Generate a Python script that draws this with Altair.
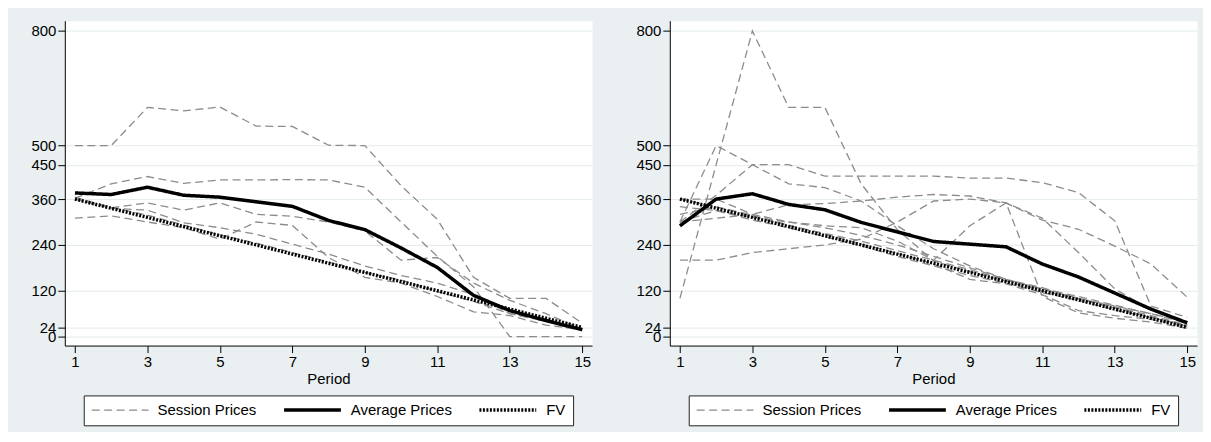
import altair as alt
import pandas as pd

periods = [1, 2, 3, 4, 5, 6, 7, 8, 9, 10, 11, 12, 13, 14, 15]
fv = [360, 336, 312, 288, 264, 240, 216, 192, 168, 144, 120, 96, 72, 48, 24]

left_sessions = {
    "L1": [500, 500, 600, 591, 601, 551, 550, 501, 500, 395, 307, 155, 100, 100, 35],
    "L2": [362, 400, 419, 401, 410, 410, 411, 410, 391, 300, 210, 130, 0, 0, 0],
    "L3": [360, 337, 350, 331, 350, 320, 315, 300, 277, 200, 207, 140, 95, 60, 20],
    "L4": [360, 336, 331, 298, 285, 268, 242, 216, 185, 160, 140, 110, 60, 42, 22],
    "L5": [310, 316, 300, 285, 255, 300, 291, 207, 155, 140, 105, 65, 55, 30, 18],
    "L6": [365, 338, 318, 292, 266, 245, 220, 195, 168, 148, 118, 92, 60, 40, 20],
}
left_average = [376, 372, 391, 370, 365, 353, 341, 304, 280, 232, 181, 108, 68, 42, 18]

right_sessions = {
    "R1": [100, 450, 800, 600, 600, 400, 280, 198, 170, 145, 120, 98, 75, 50, 30],
    "R2": [300, 500, 450, 400, 390, 355, 290, 230, 185, 150, 125, 100, 80, 60, 38],
    "R3": [300, 370, 450, 450, 420, 420, 420, 420, 415, 415, 403, 377, 303, 80, 50],
    "R4": [200, 200, 220, 230, 240, 255, 300, 355, 360, 350, 305, 281, 237, 190, 103],
    "R5": [300, 310, 320, 345, 348, 355, 365, 372, 368, 350, 310, 220, 125, 70, 40],
    "R6": [360, 360, 320, 300, 285, 265, 240, 210, 180, 150, 128, 100, 78, 55, 30],
    "R7": [300, 330, 312, 300, 290, 285, 250, 200, 290, 350, 105, 62, 48, 38, 22],
    "R8": [360, 340, 315, 290, 270, 250, 225, 200, 175, 148, 125, 105, 82, 60, 35],
    "R9": [340, 330, 305, 285, 262, 238, 210, 185, 160, 140, 115, 95, 70, 50, 28],
    "R10": [320, 340, 318, 292, 268, 242, 218, 190, 150, 138, 110, 68, 55, 45, 26],
}
right_average = [290, 360, 374, 346, 332, 299, 274, 249, 242, 235, 190, 156, 114, 72, 36]

x_ticks = [1, 3, 5, 7, 9, 11, 13, 15]
y_ticks = [0, 24, 120, 240, 360, 450, 500, 800]
kinds = ["Session Prices", "Average Prices", "FV"]

FONT = "Liberation Sans, Arial, Helvetica, sans-serif"


def long_df(sessions, average):
    rows = []
    for name, vals in sessions.items():
        for p, v in zip(periods, vals):
            rows.append({"period": p, "price": v, "series": name, "kind": kinds[0]})
    for p, v in zip(periods, average):
        rows.append({"period": p, "price": v, "series": "avg", "kind": kinds[1]})
    for p, v in zip(periods, fv):
        rows.append({"period": p, "price": v, "series": "fv", "kind": kinds[2]})
    return pd.DataFrame(rows)


def panel(sessions, average):
    df = long_df(sessions, average)
    legend = alt.Legend(
        orient="none", legendX=19, legendY=376, direction="horizontal",
        symbolType="stroke", symbolSize=3249, labelFontSize=15, labelFont=FONT,
        labelColor="black", labelOffset=8, columnPadding=25, padding=7,
        clipHeight=15, strokeColor="#222222", fillColor="white",
    )
    xaxis = alt.Axis(values=x_ticks, title="Period", grid=False, tickSize=7,
                     labelFontSize=15, titleFontSize=15, titleFontWeight="normal",
                     labelPadding=2, titlePadding=2, labelFlush=False,
                     labelOverlap=False, format="d")
    yaxis = alt.Axis(values=y_ticks, title=None, grid=True, tickSize=7,
                     labelFontSize=15, labelPadding=2, labelFlush=False,
                     labelOverlap=False, format="d")
    base = alt.Chart(df).mark_line(strokeJoin="miter").encode(
        x=alt.X("period:Q", scale=alt.Scale(domain=[0.72, 15.27], nice=False, zero=False), axis=xaxis),
        y=alt.Y("price:Q", scale=alt.Scale(domain=[-23.5, 827], nice=False, zero=False), axis=yaxis),
        detail="series:N",
        color=alt.Color("kind:N", title=None, legend=legend,
                        scale=alt.Scale(domain=kinds, range=["#8c8c8c", "black", "black"])),
        strokeDash=alt.StrokeDash("kind:N", title=None, legend=legend,
                                  scale=alt.Scale(domain=kinds, range=[[8, 4.5], [1, 0], [2, 1.5]])),
        strokeWidth=alt.StrokeWidth("kind:N", title=None, legend=legend,
                                    scale=alt.Scale(type="ordinal", domain=kinds, range=[1.3, 3.5, 3.5])),
    )
    return base.properties(width=529, height=326)


left = panel(left_sessions, left_average)
right = panel(right_sessions, right_average)

chart = (
    alt.hconcat(left, right, spacing=42)
    .resolve_scale(color="independent", strokeDash="independent", strokeWidth="independent")
    .resolve_legend(color="independent", strokeDash="independent", strokeWidth="independent")
    .properties(background="#eaf0f2", padding={"left": 22, "top": 11, "right": 5, "bottom": 5})
    .configure_view(fill="white", stroke="transparent")
    .configure_axis(labelFont=FONT, titleFont=FONT, labelColor="black", titleColor="black",
                    domainColor="black", tickColor="black", domainWidth=1, tickWidth=1,
                    gridColor="#e3ebee", gridWidth=1)
)

chart.save("out.html", embed_options={"renderer": "svg", "actions": False})
